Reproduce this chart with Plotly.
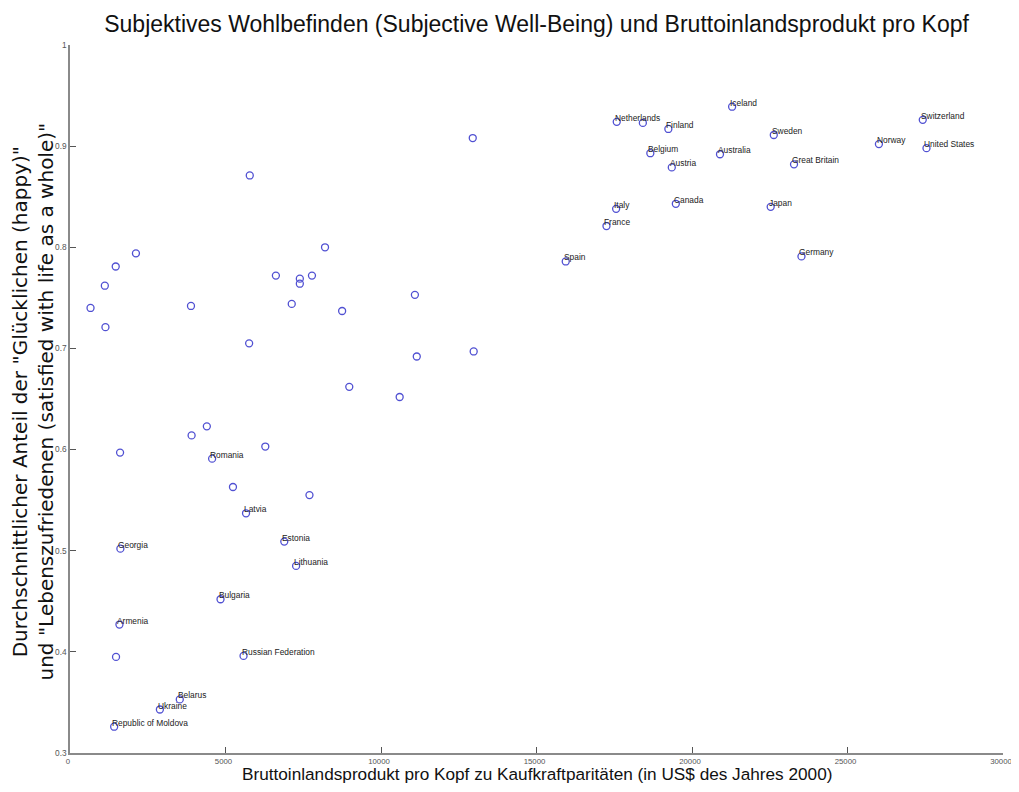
import plotly.graph_objects as go

# Labelled countries
countries = ["Iceland", "Netherlands", "Finland", "Belgium", "Austria", "Australia",
             "Sweden", "Great Britain", "Switzerland", "Norway", "United States",
             "Canada", "Japan", "Italy", "France", "Germany", "Spain",
             "Romania", "Latvia", "Estonia", "Lithuania", "Georgia", "Bulgaria",
             "Armenia", "Russian Federation", "Belarus", "Ukraine", "Republic of Moldova"]
gdp_labelled = [21290, 17580, 19240, 18660, 19350, 20900,
                22630, 23280, 27420, 26010, 27540,
                19480, 22530, 17560, 17250, 23520, 15940,
                4570, 5660, 6890, 7270, 1620, 4840,
                1590, 5580, 3530, 2890, 1420]
swb_labelled = [0.939, 0.924, 0.917, 0.893, 0.879, 0.892,
                0.911, 0.882, 0.926, 0.902, 0.898,
                0.843, 0.840, 0.838, 0.821, 0.791, 0.786,
                0.591, 0.537, 0.509, 0.485, 0.502, 0.452,
                0.427, 0.396, 0.353, 0.343, 0.326]

# Unlabelled countries
gdp_other = [18420, 12950, 11090, 11150, 12980, 660, 1120, 1470, 2120, 1140,
             3890, 5760, 6620, 7390, 7390, 7780, 7130, 8200, 8750, 8980,
             10600, 5780, 1610, 3910, 4400, 6280, 5240, 7700, 1480]
swb_other = [0.923, 0.908, 0.753, 0.692, 0.697, 0.740, 0.762, 0.781, 0.794, 0.721,
             0.742, 0.705, 0.772, 0.769, 0.764, 0.772, 0.744, 0.800, 0.737, 0.662,
             0.652, 0.871, 0.597, 0.614, 0.623, 0.603, 0.563, 0.555, 0.395]

x_ticks = [0, 5000, 10000, 15000, 20000, 25000, 30000]
y_ticks = [0.3, 0.4, 0.5, 0.6, 0.7, 0.8, 0.9, 1.0]
y_tick_text = ["0.3", "0.4", "0.5", "0.6", "0.7", "0.8", "0.9", "1"]

title_text = "Subjektives Wohlbefinden (Subjective Well-Being) und Bruttoinlandsprodukt pro Kopf"
x_title = "Bruttoinlandsprodukt pro Kopf zu Kaufkraftparitäten (in US$ des Jahres 2000)"
y_title = ("Durchschnittlicher Anteil der \"Glücklichen (happy)\"<br>"
           "und \"Lebenszufriedenen (satisfied with life as a whole)\"")

marker_style = dict(symbol="circle-open", size=7, color="rgb(80,80,210)", line=dict(width=1.3))

fig = go.Figure()
fig.add_trace(go.Scatter(x=gdp_other + gdp_labelled, y=swb_other + swb_labelled,
                         mode="markers", marker=marker_style, showlegend=False,
                         hoverinfo="x+y"))

label_font = dict(family="Liberation Sans Narrow, Arial Narrow, Liberation Sans, Arial",
                  size=8.4, color="#222")
for name, gx, gy in zip(countries, gdp_labelled, swb_labelled):
    fig.add_annotation(x=gx, y=gy, text=name, showarrow=False, xanchor="left",
                       yanchor="middle", xshift=-4, yshift=4, font=label_font)

# axis titles
fig.add_annotation(xref="paper", yref="paper", x=0.5, y=-0.0295, text=x_title,
                   showarrow=False, xanchor="center", yanchor="middle",
                   font=dict(family="Liberation Sans, Arial", size=17.2, color="#111"))
fig.add_annotation(xref="paper", yref="paper", x=-0.04, y=0.496, text=y_title,
                   showarrow=False, xanchor="center", yanchor="middle", textangle=-90,
                   font=dict(family="DejaVu Sans, Liberation Sans, Arial", size=20, color="#111"))

tick_family = "Liberation Sans Narrow, Arial Narrow, Liberation Sans, Arial"
axis_common = dict(showline=True, linecolor="#8a8a8a", linewidth=1.5, ticks="inside",
                   ticklen=6, tickwidth=1.2, tickcolor="#555", showgrid=False,
                   zeroline=False, mirror=False, automargin=False,
                   ticklabeloverflow="allow")

fig.update_layout(
    width=1003, height=776,
    paper_bgcolor="white", plot_bgcolor="white",
    margin=dict(l=62, r=8, t=37, b=31),
    title=dict(text=title_text, x=0.527, xanchor="center", y=0.980, yanchor="middle",
               font=dict(family="Liberation Sans, Arial", size=23, color="#111")),
    xaxis=dict(range=[0, 30000], tickvals=x_ticks, ticktext=[str(v) for v in x_ticks],
               ticklabelshift=-2, tickfont=dict(family=tick_family, size=7.8, color="#555"),
               **axis_common),
    yaxis=dict(range=[0.3, 1.0], tickvals=y_ticks, ticktext=y_tick_text,
               tickfont=dict(family=tick_family, size=8.3, color="#555"),
               **axis_common),
)

fig.write_html("out.html")
